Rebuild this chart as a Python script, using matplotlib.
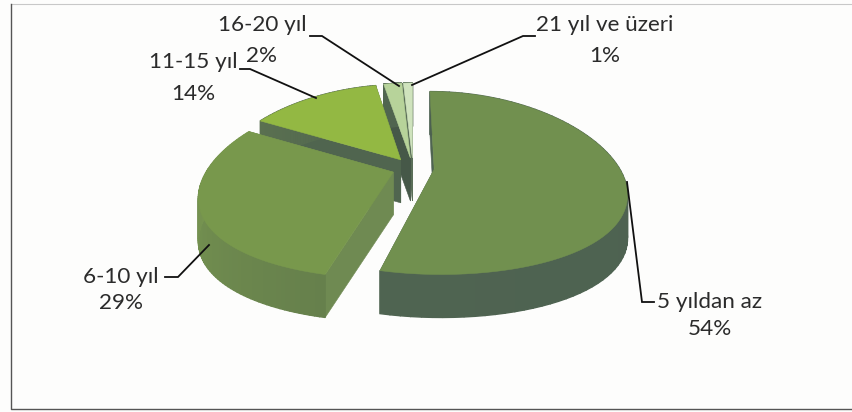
import numpy as np
import matplotlib
matplotlib.use("Agg")
import matplotlib.pyplot as plt
from matplotlib.colors import LinearSegmentedColormap
from matplotlib.patches import Polygon

plt.rcParams["font.family"] = ["Lato", "DejaVu Sans"]

labels = ["5 yıldan az", "6-10 yıl", "11-15 yıl", "16-20 yıl", "21 yıl ve üzeri"]
values = [54, 29, 14, 2, 1]
top_colors = ["#71904f", "#78984c", "#93b843", "#b7d39a", "#cfe3bd"]
cut_colors = ["#4f6451", "#6f8a52", "#50654f", "#465848", "#5a6e58"]
rim_colors = [("#4c6050", "#4f6451"), ("#66804c", "#7d9c52"), ("#5a7050", "#50654f"),
              ("#50654f", "#50654f"), ("#5a6e58", "#5a6e58")]

CX, CY = 413, 168
AX, AY = 185, 89
PX, PY = 0.25, 0.15
EXPLODE = 0.115
DEPTH = 43


def project(u, v):
    return CX + AX * u / (1 - PX * v), CY + AY * v / (1 - PY * v)


def slice_outline(start, end, off_u, off_v):
    theta = np.linspace(start, end, 80)
    rim = np.column_stack(project(off_u + np.sin(theta), off_v - np.cos(theta)))
    apex = np.array(project(off_u, off_v))
    return apex, rim


def shifted(points):
    return np.asarray(points) + [0, DEPTH]


def draw_slice(ax, index, start, end):
    mid = (start + end) / 2
    off_u, off_v = EXPLODE * np.sin(mid), -EXPLODE * np.cos(mid)
    apex, rim = slice_outline(start, end, off_u, off_v)

    # cut faces first, the one facing away goes under the rest
    for edge in (rim[0], rim[-1]):
        quad = [apex, edge, shifted(edge), shifted(apex)]
        ax.add_patch(Polygon(quad, facecolor=cut_colors[index], edgecolor=cut_colors[index], lw=0.4))

    # outer wall in short strips, only the part that faces the viewer shows
    shades = LinearSegmentedColormap.from_list("rim", rim_colors[index])
    for k in range(len(rim) - 1):
        quad = [rim[k], rim[k + 1], shifted(rim[k + 1]), shifted(rim[k])]
        c = shades(k / (len(rim) - 1))
        ax.add_patch(Polygon(quad, facecolor=c, edgecolor=c, lw=1.0))

    ax.add_patch(Polygon(np.vstack([apex, rim]), facecolor=top_colors[index],
                         edgecolor=top_colors[index], lw=0.4))


fig = plt.figure(figsize=(8.53, 4.12), dpi=100, facecolor="#fdfdfc")
ax = fig.add_axes([0, 0, 1, 1])
ax.set_xlim(0, 853)
ax.set_ylim(412, 0)
ax.axis("off")

# scanned frame: faint on top, dark on the left and bottom
ax.plot([11, 853], [3.5, 3.5], color="#c8c8c8", lw=0.8)
ax.plot([11, 11, 853], [3.5, 409, 409], color="#555555", lw=1.0)

angles = np.concatenate([[0], np.cumsum(values)]) / sum(values) * 2 * np.pi
for i in [4, 3, 2, 1, 0]:
    draw_slice(ax, i, angles[i], angles[i + 1])

leaders = [
    ([627, 642, 654], [182, 302, 302]),
    ([209, 178, 165], [245, 277, 277]),
    ([316, 250, 240], [98, 69, 69]),
    ([399, 322, 310], [86, 36, 36]),
    ([412, 523, 535], [85, 36, 36]),
]
for xs, ys in leaders:
    ax.plot(xs, ys, color="#111111", lw=1.3, solid_joinstyle="miter")

text_pos = [(710, 302, 329), (121, 277, 303), (193, 62, 94), (262, 25, 56), (605, 25, 56)]
for name, value, (x, y1, y2) in zip(labels, values, text_pos):
    ax.text(x, y1, name, ha="center", va="center", fontsize=16.2, color="#2b2b2b")
    ax.text(x, y2, f"{value}%", ha="center", va="center", fontsize=16.2, color="#2b2b2b")

fig.savefig("out.png", dpi=100, facecolor=fig.get_facecolor())
